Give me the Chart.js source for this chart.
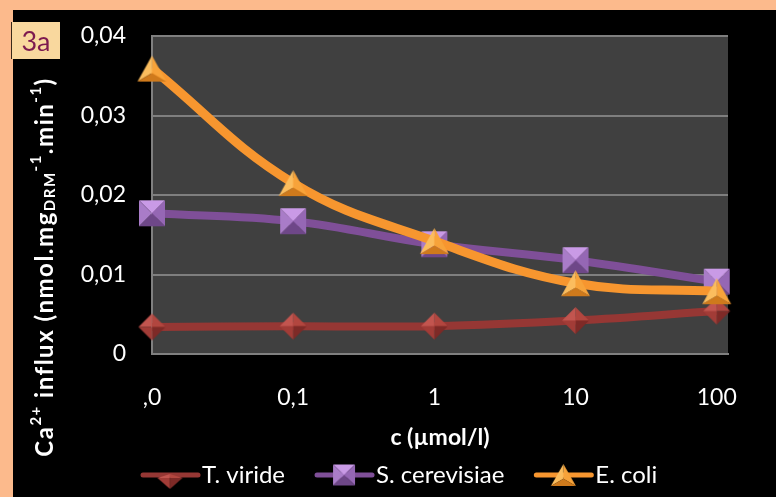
<!DOCTYPE html>
<html>
<head>
<meta charset="utf-8">
<script src="https://cdn.jsdelivr.net/npm/chart.js@4.4.1/dist/chart.umd.min.js"></script>
<style>
  body { margin: 0; width: 776px; height: 497px; overflow: hidden; position: relative; background: #fcba8c; }
  #panel { position: absolute; left: 13px; top: 10px; width: 763px; height: 487px; background: #000; }
  #tag { position: absolute; left: 12px; top: 22px; width: 48px; height: 37px; background: #f9d89e;
         color: #7d1a4f; font: 27px Lato, sans-serif; line-height: 37px; text-align: center;
         box-shadow: -1px 0 0 #3a2a1a; }
</style>
</head>
<body>
<div id="panel"><canvas id="chart"></canvas></div>
<div id="tag">3a</div>
<script>
const categories = [',0', '0,1', '1', '10', '100'];
const yTickLabels = ['0', '0,01', '0,02', '0,03', '0,04'];
const tViride = [0.0034, 0.0035, 0.0035, 0.0042, 0.0054];
const sCerevisiae = [0.0177, 0.0167, 0.0138, 0.0118, 0.0091];
const eColi = [0.0359, 0.0215, 0.0142, 0.0089, 0.0079];
const seriesNames = ['T. viride', 'S. cerevisiae', 'E. coli'];

// y axis title pieces: [text, 0 normal / 1 superscript / -1 subscript]
const yTitle = [['Ca', 0], ['2+', 1], [' influx (nmol.mg', 0], ['DRM', -1], ['-1', 1], ['.min', 0], ['-1', 1], [')', 0]];

function poly(g, pts, col) {
  g.beginPath();
  g.moveTo(pts[0][0], pts[0][1]);
  for (let i = 1; i < pts.length; i++) g.lineTo(pts[i][0], pts[i][1]);
  g.closePath();
  g.fillStyle = col;
  g.fill();
}

// pyramid-shaded marker images
function makeMarker(shape, cols, w, h, top, bottom) {
  const cv = document.createElement('canvas');
  cv.width = w + 2; cv.height = h + 2;
  const g = cv.getContext('2d');
  const cx = cv.width / 2, cy = cv.height / 2;
  const hw = w / 2, hh = h / 2;
  if (shape === 'diamond') {
    const T = [cx, cy - (top || hh)], R = [cx + hw, cy], B = [cx, cy + (bottom || hh)], L = [cx - hw, cy], C = [cx, cy];
    poly(g, [T, R, C], cols[1]);
    poly(g, [R, B, C], cols[3]);
    poly(g, [B, L, C], cols[2]);
    poly(g, [L, T, C], cols[0]);
  } else if (shape === 'square') {
    const TL = [cx - hw, cy - hh], TR = [cx + hw, cy - hh], BR = [cx + hw, cy + hh], BL = [cx - hw, cy + hh], C = [cx, cy];
    poly(g, [TL, TR, C], cols[0]);
    poly(g, [TR, BR, C], cols[2]);
    poly(g, [BR, BL, C], cols[3]);
    poly(g, [BL, TL, C], cols[1]);
  } else {
    const A = [cx, cy - hh], BR = [cx + hw, cy + hh], BL = [cx - hw, cy + hh], C = [cx, cy + hh * 0.35];
    poly(g, [A, BR, C], cols[1]);
    poly(g, [A, BL, C], cols[0]);
    poly(g, [BL, BR, C], cols[3]);
  }
  return cv;
}

const redCols = ['#c2554f', '#b2463f', '#a23c37', '#7e2a27'];
const purpleCols = ['#c99ae6', '#a97cc8', '#9567b4', '#6e4788'];
const orangeCols = ['#fbbd5e', '#f7a33a', '#f39a30', '#cf7a1c'];

const markers = [
  makeMarker('diamond', redCols, 27, 27),
  makeMarker('square', purpleCols, 26, 26),
  makeMarker('triangle', orangeCols, 29, 26)
];
const legendMarkers = [
  makeMarker('diamond', redCols, 25, 20, 4, 11),
  makeMarker('square', purpleCols, 22, 21),
  makeMarker('triangle', orangeCols, 25, 22)
];
const lineColors = ['#963734', '#7f4f98', '#f7962f'];

function pts(arr) { return arr.map((v, i) => ({ x: i, y: v })); }

const frame = {
  id: 'frame',
  beforeDraw(chart) {
    const a = chart.chartArea, ctx = chart.ctx;
    ctx.save();
    ctx.fillStyle = '#404040';
    ctx.fillRect(a.left, a.top, a.right - a.left, a.bottom - a.top);
    ctx.restore();
  },
  afterDraw(chart) {
    const ctx = chart.ctx;
    // y axis title with super/subscripts
    ctx.save();
    ctx.translate(32, 257);
    ctx.rotate(-Math.PI / 2);
    ctx.fillStyle = '#fff';
    ctx.textBaseline = 'middle';
    ctx.letterSpacing = '1.5px';
    const big = 24, small = 15;
    let total = 0;
    yTitle.forEach(p => {
      ctx.font = 'bold ' + (p[1] ? small : big) + 'px Lato';
      total += ctx.measureText(p[0]).width;
    });
    let x = -total / 2;
    yTitle.forEach(p => {
      ctx.font = 'bold ' + (p[1] ? small : big) + 'px Lato';
      const dy = p[1] === 1 ? -9 : (p[1] === -1 ? 5 : 0);
      ctx.fillText(p[0], x, dy);
      x += ctx.measureText(p[0]).width;
    });
    ctx.restore();

    // legend: line + marker + label
    ctx.save();
    ctx.font = '24px Lato';
    ctx.textBaseline = 'middle';
    ctx.fillStyle = '#fff';
    const ly = 465;
    let lx = 130;
    chart.data.datasets.forEach((ds, i) => {
      ctx.strokeStyle = lineColors[i];
      ctx.lineWidth = 5;
      ctx.lineCap = 'round';
      ctx.beginPath();
      ctx.moveTo(lx, ly);
      ctx.lineTo(lx + 55, ly);
      ctx.stroke();
      const m = legendMarkers[i];
      ctx.drawImage(m, lx + 27 - m.width / 2, ly - m.height / 2 + (i === 0 ? 3 : 0));
      ctx.fillText(ds.label, lx + 59, ly);
      lx += 59 + ctx.measureText(ds.label).width + 32;
    });
    ctx.restore();
  }
};

new Chart(document.getElementById('chart'), {
  type: 'line',
  data: {
    datasets: [{
        label: seriesNames[0],
        data: pts(tViride),
        borderColor: lineColors[0],
        borderWidth: 8,
        pointStyle: markers[0],
        order: 3
      }, {
        label: seriesNames[1],
        data: pts(sCerevisiae),
        borderColor: lineColors[1],
        borderWidth: 8,
        pointStyle: markers[1],
        order: 2
      }, {
        label: seriesNames[2],
        data: pts(eColi),
        borderColor: lineColors[2],
        borderWidth: 9,
        pointStyle: markers[2],
        order: 1
      }
    ]
  },
  options: {
    responsive: true,
    maintainAspectRatio: false,
    animation: false,
    clip: false,
    tension: 0.4,
    layout: { padding: { top: 26, right: 48, bottom: 0, left: 0 } },
    plugins: { legend: { display: false }, tooltip: { enabled: false } },
    scales: {
      x: {
        type: 'linear',
        min: 0,
        max: 4.08,
        afterBuildTicks: s => { s.ticks = categories.map((c, i) => ({ value: i })); },
        afterFit: s => { s.height = 143; },
        grid: { display: false },
        border: { display: true, color: '#808080', width: 2 },
        ticks: {
          color: '#fff',
          font: { family: 'Lato', size: 23 },
          padding: 22,
          maxRotation: 0,
          callback: (v, i) => categories[i]
        },
        title: {
          display: true,
          text: 'c (µmol/l)',
          color: '#fff',
          font: { family: 'Lato', size: 23, weight: 'bold' },
          padding: { top: 0, bottom: 46 }
        }
      },
      y: {
        min: 0,
        max: 0.04,
        afterFit: s => { s.width = 139; s.paddingTop = 0; s.paddingBottom = 0; },
        grid: { color: '#7f7f7f', lineWidth: 2, drawTicks: false },
        border: { display: true, color: '#808080', width: 2 },
        ticks: {
          stepSize: 0.01,
          color: '#fff',
          font: { family: 'Lato', size: 23 },
          padding: 26,
          callback: (v, i) => yTickLabels[i]
        }
      }
    }
  },
  plugins: [frame]
});
</script>
</body>
</html>
